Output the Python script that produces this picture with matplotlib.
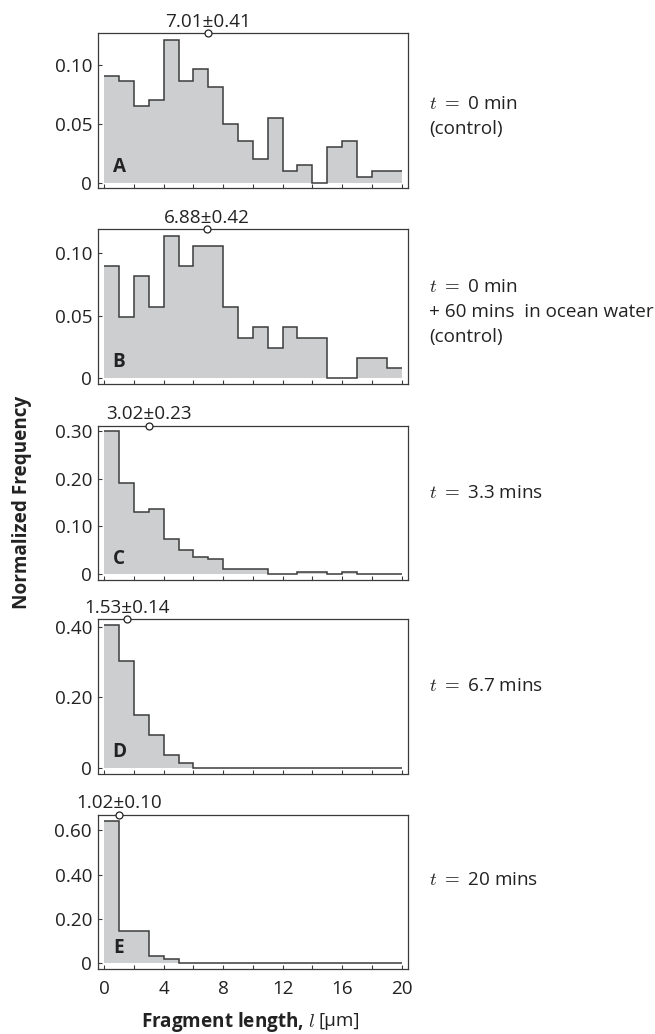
import matplotlib
matplotlib.use("Agg")
import matplotlib.pyplot as plt
import numpy as np

plt.rcParams['font.family'] = ['Open Sans', 'DejaVu Sans']
plt.rcParams['mathtext.fontset'] = 'cm'

# ---- data ----
bin_edges = list(range(0, 21))
freq_A = [0.090, 0.086, 0.065, 0.070, 0.121, 0.086, 0.096, 0.081, 0.050, 0.035,
          0.020, 0.055, 0.010, 0.015, 0.000, 0.030, 0.035, 0.005, 0.010, 0.010]
freq_B = [0.090, 0.049, 0.082, 0.057, 0.114, 0.090, 0.106, 0.106, 0.057, 0.032,
          0.041, 0.024, 0.041, 0.032, 0.032, 0.000, 0.000, 0.016, 0.016, 0.008]
freq_C = [0.299, 0.190, 0.131, 0.136, 0.073, 0.050, 0.036, 0.032, 0.010, 0.010,
          0.010, 0.000, 0.000, 0.004, 0.004, 0.000, 0.004, 0.000, 0.000, 0.000]
freq_D = [0.405, 0.302, 0.150, 0.092, 0.035, 0.012, 0.0, 0.0, 0.0, 0.0,
          0.0, 0.0, 0.0, 0.0, 0.0, 0.0, 0.0, 0.0, 0.0, 0.0]
freq_E = [0.642, 0.147, 0.147, 0.033, 0.018, 0.0, 0.0, 0.0, 0.0, 0.0,
          0.0, 0.0, 0.0, 0.0, 0.0, 0.0, 0.0, 0.0, 0.0, 0.0]
means = [7.01, 6.88, 3.02, 1.53, 1.02]
errors = [0.41, 0.42, 0.23, 0.14, 0.10]
panel_letters = ['A', 'B', 'C', 'D', 'E']
yticks_A = [0, 0.05, 0.10]
yticks_B = [0, 0.05, 0.10]
yticks_C = [0, 0.10, 0.20, 0.30]
yticks_D = [0, 0.20, 0.40]
yticks_E = [0, 0.20, 0.40, 0.60]
ytick_labels_A = ['0', '0.05', '0.10']
ytick_labels_B = ['0', '0.05', '0.10']
ytick_labels_C = ['0', '0.10', '0.20', '0.30']
ytick_labels_D = ['0', '0.20', '0.40']
ytick_labels_E = ['0', '0.20', '0.40', '0.60']
xticks = list(range(0, 21, 2))
xtick_labels = ['0', '', '4', '', '8', '', '12', '', '16', '', '20']
conditions = [
    [r'$t\ =$ 0 min', '(control)'],
    [r'$t\ =$ 0 min', '+ 60 mins  in ocean water', '(control)'],
    [r'$t\ =$ 3.3 mins'],
    [r'$t\ =$ 6.7 mins'],
    [r'$t\ =$ 20 mins'],
]

freqs = [freq_A, freq_B, freq_C, freq_D, freq_E]
yticks_all = [yticks_A, yticks_B, yticks_C, yticks_D, yticks_E]
ylabels_all = [ytick_labels_A, ytick_labels_B, ytick_labels_C, ytick_labels_D, ytick_labels_E]

# ---- layout (pixels) ----
W, H = 655, 1034
left_px, right_px = 98.3, 407.5
panel_tb = [(33.3, 188.5), (229.3, 384.0), (425.7, 580.0), (619.3, 773.5), (815.0, 969.3)]
ylims = [(-0.0049, 0.1266), (-0.0048, 0.1192), (-0.0126, 0.311), (-0.0165, 0.4212), (-0.027, 0.669)]
cond_baselines = [[109.3, 134.0], [292.3, 317.3, 342.0], [498.3], [691.0], [885.0]]

FS = 13.6
fill_color = '#cdcecf'
line_color = '#3c3c3c'
spine_color = '#3a3a3a'

fig = plt.figure(figsize=(W / 100, H / 100), dpi=100)

for i in range(5):
    top, bot = panel_tb[i]
    ax = fig.add_axes([left_px / W, 1 - bot / H, (right_px - left_px) / W, (bot - top) / H])
    ax.stairs(freqs[i], bin_edges, fill=True, color=fill_color, linewidth=0)
    ax.stairs(freqs[i], bin_edges, baseline=None, color=line_color, linewidth=1.1)
    ax.set_xlim(-0.4, 20.4)
    ax.set_ylim(*ylims[i])
    ax.set_yticks(yticks_all[i])
    ax.set_yticklabels(ylabels_all[i])
    ax.set_xticks(xticks)
    if i == 4:
        ax.set_xticklabels(xtick_labels)
    else:
        ax.set_xticklabels([])
    ax.tick_params(axis='both', direction='in', length=3, width=0.8, colors=spine_color,
                   labelsize=FS, labelcolor='#222222')
    ax.tick_params(axis='y', pad=4.5)
    ax.tick_params(axis='x', pad=8)
    for s in ax.spines.values():
        s.set_color(spine_color)
        s.set_linewidth(0.9)
    # mean marker on top spine
    ytop = ylims[i][1]
    ax.plot([means[i]], [ytop], marker='o', markersize=5, markerfacecolor='white',
            markeredgecolor='#222222', markeredgewidth=0.9, clip_on=False, zorder=10)
    ax.annotate(f'{means[i]:.2f}\u00b1{errors[i]:.2f}', xy=(means[i], ytop),
                xytext=(0, 4.8), textcoords='offset points', ha='center', va='baseline',
                fontsize=FS, color='#222222', annotation_clip=False)
    ax.text(0.067, 0.139, panel_letters[i], transform=ax.transAxes, ha='center', va='center',
            fontsize=FS, fontweight='bold', color='#222222')
    for line, yb in zip(conditions[i], cond_baselines[i]):
        fig.text(429 / W, 1 - yb / H, line, ha='left', va='baseline', fontsize=FS, color='#222222')

fig.text(22 / W, 1 - 502 / H, 'Normalized Frequency', rotation=90, ha='center', va='center',
         fontsize=FS, fontweight='bold', color='#222222')
fig.text(315 / W, 1 - 1026.5 / H, r'Fragment length, $l$', ha='right', va='baseline',
         fontsize=FS, fontweight='bold', color='#222222')
fig.text(319 / W, 1 - 1026.5 / H, '[µm]', ha='left', va='baseline',
         fontsize=FS, color='#222222')

fig.savefig('out.png', dpi=100)
